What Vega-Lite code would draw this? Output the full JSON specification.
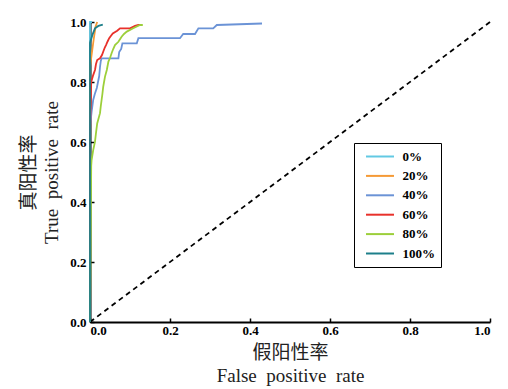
{
  "$schema": "https://vega.github.io/schema/vega-lite/v6.json",
  "width": 400,
  "height": 300,
  "autosize": "none",
  "padding": {"left": 90, "top": 22, "right": 18, "bottom": 67},
  "background": "white",
  "config": {
    "view": {"stroke": null},
    "axis": {
      "grid": false,
      "zindex": 1,
      "domainColor": "black",
      "domainWidth": 2,
      "tickColor": "black",
      "tickWidth": 1.5,
      "tickSize": -4,
      "labelFont": "Liberation Serif",
      "labelFontWeight": "bold",
      "labelFontSize": 13,
      "labelColor": "black",
      "titleFont": "Liberation Serif, Noto Sans CJK SC",
      "titleFontWeight": "normal",
      "titleFontSize": 19,
      "titleColor": "#222",
      "titleLineHeight": 23
    }
  },
  "datasets": {
    "roc": [
      {"s": "0%", "i": 0, "fpr": 0, "tpr": 0},
      {"s": "0%", "i": 1, "fpr": 0, "tpr": 1},
      {"s": "0%", "i": 2, "fpr": 0.005, "tpr": 1},

      {"s": "20%", "i": 0, "fpr": 0, "tpr": 0},
      {"s": "20%", "i": 1, "fpr": 0, "tpr": 0.85},
      {"s": "20%", "i": 2, "fpr": 0.004, "tpr": 0.89},
      {"s": "20%", "i": 3, "fpr": 0.009, "tpr": 0.94},
      {"s": "20%", "i": 4, "fpr": 0.014, "tpr": 0.985},
      {"s": "20%", "i": 5, "fpr": 0.018, "tpr": 1.0},

      {"s": "40%", "i": 0, "fpr": 0, "tpr": 0},
      {"s": "40%", "i": 1, "fpr": 0, "tpr": 0.65},
      {"s": "40%", "i": 2, "fpr": 0.004, "tpr": 0.7},
      {"s": "40%", "i": 3, "fpr": 0.008, "tpr": 0.74},
      {"s": "40%", "i": 4, "fpr": 0.012, "tpr": 0.76},
      {"s": "40%", "i": 5, "fpr": 0.017, "tpr": 0.78},
      {"s": "40%", "i": 6, "fpr": 0.02, "tpr": 0.8},
      {"s": "40%", "i": 7, "fpr": 0.023, "tpr": 0.82},
      {"s": "40%", "i": 8, "fpr": 0.025, "tpr": 0.85},
      {"s": "40%", "i": 9, "fpr": 0.027, "tpr": 0.87},
      {"s": "40%", "i": 10, "fpr": 0.029, "tpr": 0.879},
      {"s": "40%", "i": 11, "fpr": 0.071, "tpr": 0.879},
      {"s": "40%", "i": 12, "fpr": 0.073, "tpr": 0.9},
      {"s": "40%", "i": 13, "fpr": 0.078, "tpr": 0.91},
      {"s": "40%", "i": 14, "fpr": 0.081, "tpr": 0.929},
      {"s": "40%", "i": 15, "fpr": 0.117, "tpr": 0.929},
      {"s": "40%", "i": 16, "fpr": 0.121, "tpr": 0.946},
      {"s": "40%", "i": 17, "fpr": 0.225, "tpr": 0.946},
      {"s": "40%", "i": 18, "fpr": 0.233, "tpr": 0.96},
      {"s": "40%", "i": 19, "fpr": 0.2625, "tpr": 0.96},
      {"s": "40%", "i": 20, "fpr": 0.271, "tpr": 0.979},
      {"s": "40%", "i": 21, "fpr": 0.308, "tpr": 0.979},
      {"s": "40%", "i": 22, "fpr": 0.317, "tpr": 0.99},
      {"s": "40%", "i": 23, "fpr": 0.43, "tpr": 0.995},

      {"s": "60%", "i": 0, "fpr": 0, "tpr": 0},
      {"s": "60%", "i": 1, "fpr": 0, "tpr": 0.63},
      {"s": "60%", "i": 2, "fpr": 0.003, "tpr": 0.8},
      {"s": "60%", "i": 3, "fpr": 0.008, "tpr": 0.823},
      {"s": "60%", "i": 4, "fpr": 0.0125, "tpr": 0.84},
      {"s": "60%", "i": 5, "fpr": 0.015, "tpr": 0.86},
      {"s": "60%", "i": 6, "fpr": 0.018, "tpr": 0.873},
      {"s": "60%", "i": 7, "fpr": 0.025, "tpr": 0.879},
      {"s": "60%", "i": 8, "fpr": 0.03, "tpr": 0.89},
      {"s": "60%", "i": 9, "fpr": 0.033, "tpr": 0.901},
      {"s": "60%", "i": 10, "fpr": 0.037, "tpr": 0.915},
      {"s": "60%", "i": 11, "fpr": 0.04, "tpr": 0.923},
      {"s": "60%", "i": 12, "fpr": 0.044, "tpr": 0.935},
      {"s": "60%", "i": 13, "fpr": 0.048, "tpr": 0.946},
      {"s": "60%", "i": 14, "fpr": 0.053, "tpr": 0.955},
      {"s": "60%", "i": 15, "fpr": 0.057, "tpr": 0.962},
      {"s": "60%", "i": 16, "fpr": 0.068, "tpr": 0.971},
      {"s": "60%", "i": 17, "fpr": 0.075, "tpr": 0.979},
      {"s": "60%", "i": 18, "fpr": 0.1, "tpr": 0.979},
      {"s": "60%", "i": 19, "fpr": 0.1125, "tpr": 0.987},
      {"s": "60%", "i": 20, "fpr": 0.121, "tpr": 0.99},
      {"s": "60%", "i": 21, "fpr": 0.13, "tpr": 0.99},

      {"s": "80%", "i": 0, "fpr": 0, "tpr": 0},
      {"s": "80%", "i": 1, "fpr": 0.003, "tpr": 0.52},
      {"s": "80%", "i": 2, "fpr": 0.004, "tpr": 0.54},
      {"s": "80%", "i": 3, "fpr": 0.008, "tpr": 0.573},
      {"s": "80%", "i": 4, "fpr": 0.0125, "tpr": 0.601},
      {"s": "80%", "i": 5, "fpr": 0.015, "tpr": 0.63},
      {"s": "80%", "i": 6, "fpr": 0.018, "tpr": 0.662},
      {"s": "80%", "i": 7, "fpr": 0.025, "tpr": 0.696},
      {"s": "80%", "i": 8, "fpr": 0.027, "tpr": 0.72},
      {"s": "80%", "i": 9, "fpr": 0.029, "tpr": 0.74},
      {"s": "80%", "i": 10, "fpr": 0.031, "tpr": 0.76},
      {"s": "80%", "i": 11, "fpr": 0.033, "tpr": 0.784},
      {"s": "80%", "i": 12, "fpr": 0.0375, "tpr": 0.818},
      {"s": "80%", "i": 13, "fpr": 0.042, "tpr": 0.84},
      {"s": "80%", "i": 14, "fpr": 0.046, "tpr": 0.868},
      {"s": "80%", "i": 15, "fpr": 0.05, "tpr": 0.88},
      {"s": "80%", "i": 16, "fpr": 0.054, "tpr": 0.896},
      {"s": "80%", "i": 17, "fpr": 0.058, "tpr": 0.91},
      {"s": "80%", "i": 18, "fpr": 0.0625, "tpr": 0.923},
      {"s": "80%", "i": 19, "fpr": 0.071, "tpr": 0.934},
      {"s": "80%", "i": 20, "fpr": 0.079, "tpr": 0.951},
      {"s": "80%", "i": 21, "fpr": 0.085, "tpr": 0.96},
      {"s": "80%", "i": 22, "fpr": 0.092, "tpr": 0.968},
      {"s": "80%", "i": 23, "fpr": 0.108, "tpr": 0.979},
      {"s": "80%", "i": 24, "fpr": 0.125, "tpr": 0.99},
      {"s": "80%", "i": 25, "fpr": 0.132, "tpr": 0.99},

      {"s": "100%", "i": 0, "fpr": 0, "tpr": 0},
      {"s": "100%", "i": 1, "fpr": 0, "tpr": 0.93},
      {"s": "100%", "i": 2, "fpr": 0.006, "tpr": 0.957},
      {"s": "100%", "i": 3, "fpr": 0.0125, "tpr": 0.979},
      {"s": "100%", "i": 4, "fpr": 0.021, "tpr": 0.987},
      {"s": "100%", "i": 5, "fpr": 0.032, "tpr": 0.991}
    ],
    "diag": [
      {"fpr": 0, "tpr": 0},
      {"fpr": 1, "tpr": 1}
    ]
  },
  "layer": [
    {
      "data": {"name": "diag"},
      "mark": {"type": "line", "color": "black", "strokeDash": [5, 4], "strokeWidth": 1.8},
      "encoding": {
        "x": {"field": "fpr", "type": "quantitative"},
        "y": {"field": "tpr", "type": "quantitative"}
      }
    },
    {
      "data": {"name": "roc"},
      "mark": {"type": "line", "strokeWidth": 1.8},
      "encoding": {
        "x": {
          "field": "fpr", "type": "quantitative",
          "scale": {"domain": [0, 1]},
          "axis": {"values": [0, 0.2, 0.4, 0.6, 0.8, 1.0], "format": ".1f", "labelPadding": 6, "titlePadding": 6,
                   "title": ["假阳性率", "False\u2002positive\u2002rate"]}
        },
        "y": {
          "field": "tpr", "type": "quantitative",
          "scale": {"domain": [0, 1]},
          "axis": {"values": [0, 0.2, 0.4, 0.6, 0.8, 1.0], "format": ".1f", "labelPadding": 8, "titlePadding": 8,
                   "title": ["真阳性率", "True\u2002positive\u2002rate"]}
        },
        "order": {"field": "i", "type": "quantitative"},
        "color": {
          "field": "s", "type": "nominal",
          "scale": {
            "domain": ["0%", "20%", "40%", "60%", "80%", "100%"],
            "range": ["#62c9e3", "#f59a36", "#6b93d6", "#e8312b", "#9ccf3a", "#1d7f8a"]
          },
          "legend": {
            "title": null,
            "orient": "none",
            "legendX": 264,
            "legendY": 121,
            "symbolType": "M-2.15,0H2.15",
            "symbolSize": 169,
            "symbolStrokeWidth": 2,
            "symbolOffset": 12.5,
            "rowPadding": 4.4,
            "labelFont": "Liberation Serif",
            "labelFontWeight": "bold",
            "labelFontSize": 13,
            "labelColor": "black",
            "labelOffset": 15,
            "padding": 6,
            "strokeColor": "black",
            "fillColor": "white"
          }
        }
      }
    }
  ]
}
